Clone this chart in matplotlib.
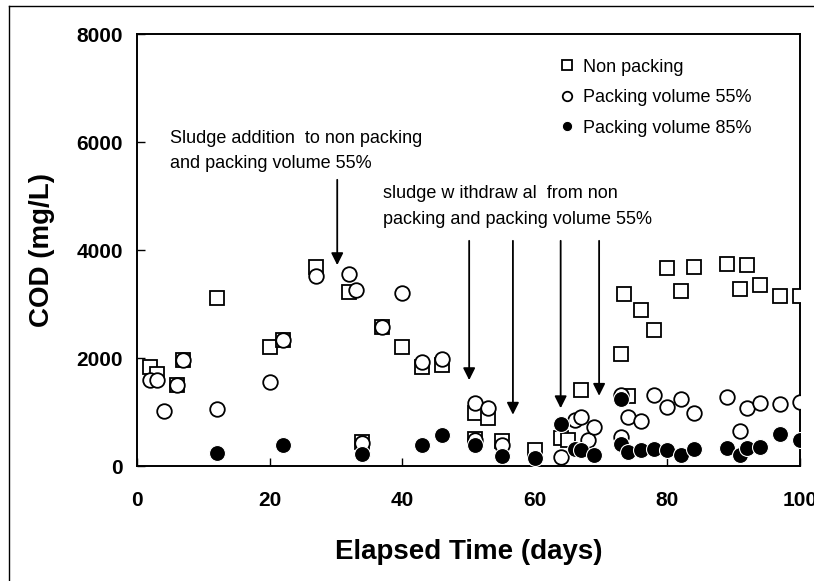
import matplotlib
matplotlib.use("Agg")
import matplotlib.pyplot as plt
from matplotlib.lines import Line2D

# ---- data ----
days_non = [2, 3, 6, 7, 12, 20, 22, 27, 32, 34, 37, 40, 43, 46, 51, 51, 53, 55, 60, 64, 65,
            67, 73, 73.5, 74, 76, 78, 80, 82, 84, 89, 91, 92, 94, 97, 100]
cod_non = [1840, 1700, 1500, 1960, 3120, 2200, 2330, 3690, 3220, 450, 2570, 2200, 1830, 1870,
           980, 500, 880, 470, 300, 510, 480,
           1400, 2070, 3180, 1300, 2880, 2510, 3660, 3250, 3690, 3750, 3270, 3720, 3350, 3150, 3150]

days_55 = [2, 3, 4, 6, 7, 12, 20, 22, 27, 32, 33, 34, 37, 40, 43, 46, 51, 51, 53, 55, 64,
           66, 67, 68, 69, 73, 73, 74, 76, 78, 80, 82, 84, 89, 91, 92, 94, 97, 100]
cod_55 = [1600, 1600, 1020, 1500, 1960, 1050, 1550, 2330, 3510, 3550, 3260, 420, 2570, 3210,
          1920, 1990, 1160, 480, 1070, 390, 160,
          850, 910, 480, 730, 1310, 540, 910, 830, 1310, 1100, 1250, 990, 1280, 650, 1070,
          1160, 1150, 1180]

days_85 = [12, 22, 34, 43, 46, 51, 55, 60, 64, 66, 67, 69, 73, 73, 74, 76, 78, 80, 82, 84,
           89, 91, 92, 94, 97, 100]
cod_85 = [250, 380, 230, 380, 580, 380, 190, 150, 780, 320, 300, 210, 1240, 400, 260, 290,
          310, 290, 200, 310, 330, 200, 330, 360, 590, 490]

labels = ["Non packing", "Packing volume 55%", "Packing volume 85%"]
xticks = [0, 20, 40, 60, 80, 100]
yticks = [0, 2000, 4000, 6000, 8000]

# annotation arrows (day, start COD, tip COD)
add_arrow = (30.2, 5300, 3720)
wd_days = [50.1, 56.7, 63.9, 69.7]
wd_start = [4170, 4170, 4170, 4170]
wd_tip = [1590, 950, 1070, 1300]

ann1 = ["Sludge addition  to non packing", "and packing volume 55%"]
ann2 = ["sludge w ithdraw al  from non", "packing and packing volume 55%"]

# ---- figure ----
plt.rcParams['font.family'] = ['Liberation Sans', 'DejaVu Sans']
W, H = 814, 581
fig = plt.figure(figsize=(W / 100, H / 100), dpi=100)
ax = fig.add_axes([137 / W, 1 - 466 / H, (800 - 137) / W, (466 - 34) / H])

ax.plot(days_non, cod_non, linestyle='none', marker='s', ms=10, mfc='white', mec='black',
        mew=1.3, label=labels[0], zorder=3)
ax.plot(days_55, cod_55, linestyle='none', marker='o', ms=10.5, mfc='white', mec='black',
        mew=1.3, label=labels[1], zorder=4)
ax.plot(days_85, cod_85, linestyle='none', marker='o', ms=11.5, mfc='black', mec='white',
        mew=0.8, label=labels[2], zorder=5)

ax.set_xlim(0, 100)
ax.set_ylim(0, 8000)
ax.set_xticks(xticks)
ax.set_yticks(yticks)
ax.set_xticklabels([str(v) for v in xticks], fontsize=15, fontweight='bold')
ax.set_yticklabels([str(v) for v in yticks], fontsize=15, fontweight='bold')
ax.tick_params(axis='both', direction='in', length=6, width=1)
ax.tick_params(axis='x', pad=18)
ax.tick_params(axis='y', pad=10)
for s in ax.spines.values():
    s.set_linewidth(1.4)

ax.set_xlabel("Elapsed Time (days)", fontsize=20, fontweight='bold')
ax.set_ylabel("COD (mg/L)", fontsize=20, fontweight='bold')
ax.xaxis.set_label_coords(0.5, -(552 - 466) / 432)
ax.xaxis.label.set_va('center')
ax.yaxis.set_label_coords((42 - 137) / 663, 0.5)
ax.yaxis.label.set_va('center')

# arrows
ap = dict(arrowstyle='-|>', lw=1.3, color='black', mutation_scale=18, shrinkA=0, shrinkB=0)
ax.annotate('', xy=(add_arrow[0], add_arrow[2]), xytext=(add_arrow[0], add_arrow[1]),
            arrowprops=ap)
for d, s0, t in zip(wd_days, wd_start, wd_tip):
    ax.annotate('', xy=(d, t), xytext=(d, s0), arrowprops=ap)

# annotation text
ax.text(5.0, 6070, ann1[0], fontsize=13, va='center', ha='left')
ax.text(5.0, 5610, ann1[1], fontsize=13, va='center', ha='left')
ax.text(37.1, 5050, ann2[0], fontsize=13, va='center', ha='left')
ax.text(37.1, 4560, ann2[1], fontsize=13, va='center', ha='left')

leg = ax.legend(loc='upper left', bbox_to_anchor=(0.638, 0.943), frameon=False, fontsize=13,
                markerscale=0.65, handlelength=0.8, handletextpad=0.5, labelspacing=0.75,
                borderpad=0, borderaxespad=0)

# outer frame
fig.add_artist(Line2D([9 / W, 9 / W], [0, 1 - 6 / H], transform=fig.transFigure,
                      color='black', lw=1))
fig.add_artist(Line2D([9 / W, 1], [1 - 6 / H, 1 - 6 / H], transform=fig.transFigure,
                      color='black', lw=1))

fig.savefig("out.png", dpi=100)
